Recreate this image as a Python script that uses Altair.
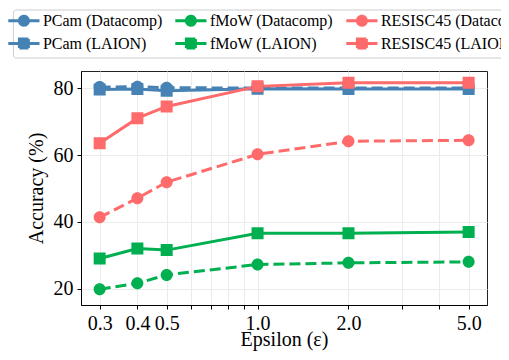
import altair as alt
import pandas as pd

# ---- data ----
epsilons = [0.3, 0.4, 0.5, 1.0, 2.0, 5.0]
pcam_datacomp = [80.3, 80.4, 80.1, 80.0, 80.0, 80.0]
pcam_laion = [79.6, 79.7, 79.2, 79.8, 79.7, 79.7]
fmow_datacomp = [19.9, 21.7, 24.2, 27.3, 27.8, 28.1]
fmow_laion = [29.1, 32.1, 31.6, 36.6, 36.6, 37.0]
resisc_datacomp = [41.4, 47.1, 51.9, 60.2, 64.1, 64.4]
resisc_laion = [63.5, 71.0, 74.5, 80.5, 81.6, 81.6]

series_names = ["PCam (Datacomp)", "fMoW (Datacomp)", "RESISC45 (Datacomp)",
                "PCam (LAION)", "fMoW (LAION)", "RESISC45 (LAION)"]
series_colors = ["#4682B4", "#00B050", "#FF6B6B",
                 "#4682B4", "#00B050", "#FF6B6B"]

major_ticks = [0.3, 0.4, 0.5, 1.0, 2.0, 5.0]
minor_ticks = [0.6, 0.7, 0.8, 0.9, 3.0, 4.0]
y_ticks = [20, 40, 60, 80]

FONT = "Liberation Serif"

values_by_series = {
    "PCam (Datacomp)": pcam_datacomp,
    "PCam (LAION)": pcam_laion,
    "fMoW (Datacomp)": fmow_datacomp,
    "fMoW (LAION)": fmow_laion,
    "RESISC45 (Datacomp)": resisc_datacomp,
    "RESISC45 (LAION)": resisc_laion,
}
draw_order = ["PCam (Datacomp)", "PCam (LAION)", "fMoW (Datacomp)",
              "fMoW (LAION)", "RESISC45 (Datacomp)", "RESISC45 (LAION)"]

rows = []
for name in draw_order:
    for e, v in zip(epsilons, values_by_series[name]):
        rows.append({"eps": e, "acc": v, "series": name,
                     "dashed": "Datacomp" in name})
df = pd.DataFrame(rows)

# marker shapes: a line segment (only stroked, so it shows in the legend only)
# plus a filled circle / square
circle_path = "M-2.6,0L2.6,0M0.75,0A0.75,0.75,0,1,1,-0.75,0A0.75,0.75,0,1,1,0.75,0Z"
square_path = "M-2.6,0L2.6,0M-0.75,-0.75L0.75,-0.75L0.75,0.75L-0.75,0.75Z"
series_shapes = [circle_path if "Datacomp" in s else square_path for s in series_names]

all_ticks = sorted(major_ticks + minor_ticks)
major_str = ",".join(repr(t) for t in major_ticks)
label_expr = f"indexof([{major_str}], datum.value) >= 0 ? format(datum.value, '.1f') : ''"

x_enc = alt.X(
    "eps:Q",
    scale=alt.Scale(type="log", domain=[0.2602, 5.751], nice=False),
    axis=alt.Axis(
        values=all_ticks, labelExpr=label_expr, title="Epsilon (ε)",
        grid=True, gridColor="#ebebeb", gridWidth=1,
        tickSize=4, tickColor="black", domainColor="black", domainWidth=1,
        labelFont=FONT, labelFontSize=20, labelColor="black", labelPadding=4,
        labelOverlap=False, labelFlush=False, labelBound=False,
        titleFont=FONT, titleFontSize=20, titleFontWeight="normal",
        titleColor="black", titlePadding=-4, orient="bottom",
    ),
)
y_enc = alt.Y(
    "acc:Q",
    scale=alt.Scale(domain=[15.21, 85.09], nice=False, zero=False),
    axis=alt.Axis(
        values=y_ticks, title="Accuracy (%)",
        grid=True, gridColor="#ebebeb", gridWidth=1,
        tickSize=4, tickColor="black", domainColor="black", domainWidth=1,
        labelFont=FONT, labelFontSize=20, labelColor="black", labelPadding=4,
        titleFont=FONT, titleFontSize=20, titleFontWeight="normal",
        titleColor="black", titlePadding=7,
    ),
)

legend_def = alt.Legend(
    title=None, orient="none", legendX=-68.1, legendY=-61.5,
    columns=3, direction="horizontal",
    symbolSize=144, symbolStrokeWidth=3, symbolDash=[1, 0],
    symbolOffset=0, labelOffset=11,
    labelFont=FONT, labelFontSize=16, labelColor="black", labelLimit=400,
    padding=3, rowPadding=1, columnPadding=6,
    fillColor="white", strokeColor="#cccccc", cornerRadius=3,
)
color_enc = alt.Color("series:N",
                      scale=alt.Scale(domain=series_names, range=series_colors),
                      legend=legend_def)
shape_enc = alt.Shape("series:N",
                      scale=alt.Scale(domain=series_names, range=series_shapes),
                      legend=legend_def)

base = alt.Chart(df)
dashed_lines = base.transform_filter(alt.datum.dashed == True).mark_line(
    strokeWidth=3, strokeDash=[11, 5]).encode(x=x_enc, y=y_enc, color=color_enc)
solid_lines = base.transform_filter(alt.datum.dashed == False).mark_line(
    strokeWidth=3).encode(x=x_enc, y=y_enc, color=color_enc)
points = base.mark_point(filled=True, opacity=1, size=256).encode(
    x=x_enc, y=y_enc, color=color_enc, shape=shape_enc)

chart = (
    alt.layer(dashed_lines, solid_lines, points)
    .properties(
        width=406, height=234,
        autosize=alt.AutoSizeParams(type="none"),
        padding={"left": 73, "top": 63, "right": 14, "bottom": 46},
        background="white",
    )
    .configure_view(stroke="#222222", strokeWidth=1)
)

chart.save("out.html", embed_options={"renderer": "svg", "actions": False})
